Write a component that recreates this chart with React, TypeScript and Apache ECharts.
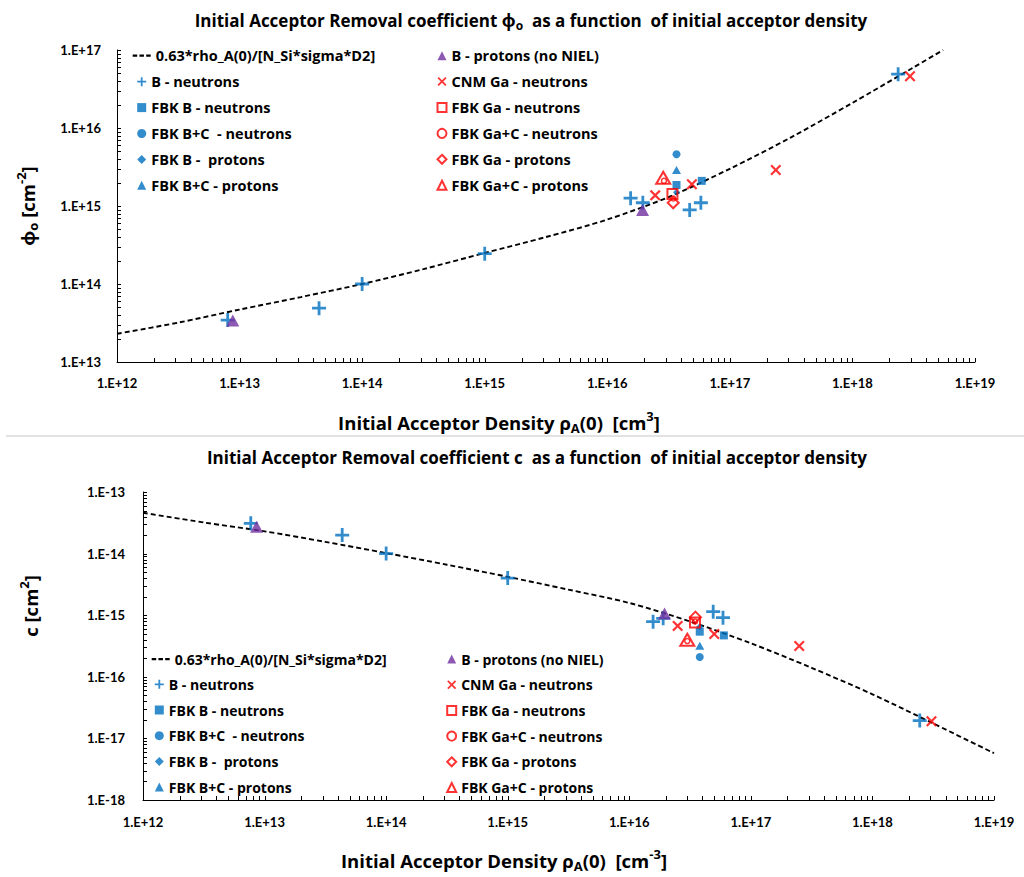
import React, { useEffect, useRef } from 'react';
import * as echarts from 'echarts';

const FONT = 'Lato, "Noto Sans", "DejaVu Sans", sans-serif';
const FONT2 = '"Open Sans", "Noto Sans", "DejaVu Sans", sans-serif';
const BLUE = '#0070C0';
const PURPLE = '#7030A0';
const RED = '#FF0000';

// ---------- names ----------
const LINE_NAME = '0.63*rho_A(0)/[N_Si*sigma*D2]';
const N_B_NEU = 'B - neutrons';
const N_FBK_B_NEU = 'FBK B - neutrons';
const N_FBK_BC_NEU = 'FBK B+C  - neutrons';
const N_FBK_B_PRO = 'FBK B -  protons';
const N_FBK_BC_PRO = 'FBK B+C - protons';
const N_B_PRO = 'B - protons (no NIEL)';
const N_CNM_GA = 'CNM Ga - neutrons';
const N_FBK_GA_NEU = 'FBK Ga - neutrons';
const N_FBK_GAC_NEU = 'FBK Ga+C - neutrons';
const N_FBK_GA_PRO = 'FBK Ga - protons';
const N_FBK_GAC_PRO = 'FBK Ga+C - protons';

const leftNames = [N_B_NEU, N_FBK_B_NEU, N_FBK_BC_NEU, N_FBK_B_PRO, N_FBK_BC_PRO];
const rightNames = [N_B_PRO, N_CNM_GA, N_FBK_GA_NEU, N_FBK_GAC_NEU, N_FBK_GA_PRO, N_FBK_GAC_PRO];

// ---------- model curves ----------
const phiCurveX = [1e12, 3.16e12, 1e13, 3.16e13, 1e14, 3.16e14, 1e15, 3.16e15, 1e16, 3.16e16, 1e17, 3.16e17, 1e18, 3.16e18, 5.5e18];
const phiCurveY = [2.3e13, 3.2e13, 4.7e13, 6.8e13, 1.0e14, 1.55e14, 2.5e14, 4.0e14, 6.7e14, 1.3e15, 3.0e15, 7.6e15, 2.1e16, 6.0e16, 1.0e17];
const cCurveX = [1e12, 3.16e12, 1e13, 3.16e13, 1e14, 3.16e14, 1e15, 3.16e15, 1e16, 3.16e16, 1e17, 3.16e17, 1e18, 3.16e18, 1e19];
const cCurveY = [4.6e-14, 3.2e-14, 2.3e-14, 1.55e-14, 1.02e-14, 6.6e-15, 4.2e-15, 2.6e-15, 1.58e-15, 7.9e-16, 3.5e-16, 1.4e-16, 5.2e-17, 1.75e-17, 5.75e-18];

// ---------- top chart: phi_o ----------
const phiBNeutrons = [[8.0e12, 3.45e13], [4.45e13, 4.9e13], [1.0e14, 1.0e14], [1.0e15, 2.45e14], [1.55e16, 1.26e15], [1.95e16, 1.1e15], [4.7e16, 8.9e14], [5.8e16, 1.1e15], [2.36e18, 4.9e16]];
const phiFbkBNeutrons = [[3.67e16, 1.86e15], [5.9e16, 2.1e15]];
const phiFbkBCNeutrons = [[3.67e16, 4.6e15]];
const phiFbkBProtons = [[3.67e16, 1.5e15]];
const phiFbkBCProtons = [[3.67e16, 2.9e15]];
const phiBProtons = [[8.8e12, 3.4e13], [1.94e16, 8.9e14]];
const phiCnmGa = [[2.46e16, 1.37e15], [4.9e16, 1.9e15], [2.37e17, 2.9e15], [2.95e18, 4.6e16]];
const phiFbkGaNeutrons = [[3.4e16, 1.43e15]];
const phiFbkGaCNeutrons = [[2.9e16, 2.1e15], [3.45e16, 1.25e15]];
const phiFbkGaProtons = [[3.45e16, 1.1e15]];
const phiFbkGaCProtons = [[2.86e16, 2.3e15]];

// ---------- bottom chart: c ----------
const cBNeutrons = [[7.7e12, 3.1e-14], [4.35e13, 2.0e-14], [1.0e14, 1.0e-14], [1.0e15, 4.0e-15], [1.57e16, 7.85e-16], [1.9e16, 8.9e-16], [4.9e16, 1.14e-15], [5.9e16, 9.1e-16], [2.45e18, 1.95e-17]];
const cFbkBNeutrons = [[3.8e16, 5.4e-16], [6.0e16, 4.7e-16]];
const cFbkBCNeutrons = [[3.8e16, 2.1e-16]];
const cFbkBProtons = [[3.8e16, 6.5e-16]];
const cFbkBCProtons = [[3.8e16, 3.2e-16]];
const cBProtons = [[8.6e12, 2.74e-14], [1.95e16, 1.07e-15]];
const cCnmGa = [[2.5e16, 6.7e-16], [5.0e16, 4.95e-16], [2.5e17, 3.16e-16], [3.06e18, 1.9e-17]];
const cFbkGaNeutrons = [[3.47e16, 7.6e-16]];
const cFbkGaCNeutrons = [[3.47e16, 7.9e-16], [3.0e16, 3.8e-16]];
const cFbkGaProtons = [[3.5e16, 9.3e-16]];
const cFbkGaCProtons = [[3.0e16, 4.0e-16]];

// ---------- log tick mantissas (axis decoration) ----------
const tickMantissas = [1, 2, 3, 4, 5, 6, 7, 8, 9];
const logTicks = (minExp: number, maxExp: number) => {
  const out: number[] = [];
  for (let e = minExp; e < maxExp; e++) {
    for (const m of tickMantissas) out.push(Number(m + 'e' + e));
  }
  out.push(Number('1e' + maxExp));
  return out;
};

// ---------- marker styles ----------
const PLUS = 'path://M4,0H6V4H10V6H6V10H4V6H0V4H4Z';
const CROSS = 'path://M1.4,0L5,3.6L8.6,0L10,1.4L6.4,5L10,8.6L8.6,10L5,6.4L1.4,10L0,8.6L3.6,5L0,1.4Z';
const DASH_ICON = 'path://M0,0H4V2H0Z M6,0H10V2H6Z M12,0H16V2H12Z';
const open = (w: number) => ({ color: 'rgba(255,255,255,0)', borderColor: RED, borderWidth: w });

const markerStyle: Record<string, any> = {
  [N_B_NEU]: { symbol: PLUS, symbolSize: 14, itemStyle: { color: BLUE } },
  [N_FBK_B_NEU]: { symbol: 'rect', symbolSize: 8, itemStyle: { color: BLUE } },
  [N_FBK_BC_NEU]: { symbol: 'circle', symbolSize: 8, itemStyle: { color: BLUE } },
  [N_FBK_B_PRO]: { symbol: 'diamond', symbolSize: 7, itemStyle: { color: BLUE } },
  [N_FBK_BC_PRO]: { symbol: 'triangle', symbolSize: [9, 8], itemStyle: { color: BLUE } },
  [N_B_PRO]: { symbol: 'triangle', symbolSize: [13, 12], itemStyle: { color: PURPLE } },
  [N_CNM_GA]: { symbol: CROSS, symbolSize: 11, itemStyle: { color: RED } },
  [N_FBK_GA_NEU]: { symbol: 'rect', symbolSize: 10, itemStyle: open(2) },
  [N_FBK_GAC_NEU]: { symbol: 'circle', symbolSize: 5, itemStyle: open(1.5) },
  [N_FBK_GA_PRO]: { symbol: 'diamond', symbolSize: 11, itemStyle: open(2) },
  [N_FBK_GAC_PRO]: { symbol: 'triangle', symbolSize: [14, 12], itemStyle: open(2) },
};

const scatter = (name: string, data: number[][], idx: number) => ({
  type: 'scatter',
  name,
  data,
  xAxisIndex: idx,
  yAxisIndex: idx,
  silent: true,
  z: 3,
  ...markerStyle[name],
});

const curve = (xs: number[], ys: number[], idx: number) => ({
  type: 'line',
  name: LINE_NAME,
  data: xs.map((x, i) => [x, ys[i]]),
  xAxisIndex: idx,
  yAxisIndex: idx,
  showSymbol: false,
  symbol: 'none',
  smooth: 0.3,
  silent: true,
  z: 2,
  lineStyle: { color: '#000', width: 1.9, type: [5, 3] },
  itemStyle: { color: '#000' },
});

const exp10 = (v: number) => Math.round(Math.log10(v));

const logAxis = (gridIndex: number, minExp: number, maxExp: number, fmt: (v: number) => string, margin: number, isY: boolean) => ({
  type: 'log',
  logBase: 10,
  gridIndex,
  min: Number('1e' + minExp),
  max: Number('1e' + maxExp),
  splitNumber: maxExp - minExp,
  axisLine: { show: true, onZero: false, lineStyle: { color: '#000', width: 1 } },
  axisTick: { show: false },
  minorTick: { show: false },
  splitLine: { show: false },
  minorSplitLine: { show: false },
  axisLabel: {
    show: true,
    margin,
    formatter: fmt,
    fontFamily: FONT,
    fontWeight: 'bold',
    fontSize: 13,
    color: '#000',
    showMinLabel: true,
    showMaxLabel: true,
  },
  position: isY ? 'left' : 'bottom',
});

const T = (size: number) => ({ fontSize: size, fontWeight: 'bold', fontFamily: FONT2, fill: '#000', color: '#000', lineHeight: size + 6 });
const SUB = (size: number) => ({ fontSize: size, fontWeight: 'bold', fontFamily: FONT2, fill: '#000', color: '#000', verticalAlign: 'bottom' });
const SUP = (size: number) => ({ fontSize: size, fontWeight: 'bold', fontFamily: FONT2, fill: '#000', color: '#000', verticalAlign: 'top' });

const richText = (x: number, y: number, text: string, size: number, rotation = 0) => ({
  type: 'text',
  x,
  y,
  rotation,
  silent: true,
  style: {
    text,
    align: 'center',
    verticalAlign: 'middle',
    fontSize: size,
    fontWeight: 'bold',
    fontFamily: FONT2,
    fill: '#000',
    rich: { t: T(size), s: SUB(Math.round(size * 0.68)), p: SUP(Math.round(size * 0.68)) },
  },
});

const legendBase = (size: number, gap: number) => ({
  orient: 'vertical',
  selectedMode: false,
  padding: 0,
  itemWidth: 9,
  itemHeight: 9,
  itemGap: gap,
  symbolKeepAspect: true,
  textStyle: { fontFamily: FONT2, fontWeight: 'bold', fontSize: size, color: '#000', lineHeight: 15 },
});

const lineLegendData = [{ name: LINE_NAME, icon: DASH_ICON, itemStyle: { color: '#000', borderWidth: 0 } }];
const LT = legendBase(14.5, 10.9);
const LB = legendBase(14, 10.7);

const baseGraphic: any[] = [
  { type: 'line', silent: true, shape: { x1: 6, y1: 436, x2: 1024, y2: 436 }, style: { stroke: '#d9d9d9', lineWidth: 1.5 } },
  richText(531, 20, '{t|Initial Acceptor Removal coefficient ϕ}{s|o}{t|  as a function  of initial acceptor density}', 17),
  richText(537, 457, '{t|Initial Acceptor Removal coefficient c  as a function  of initial acceptor density}', 17),
  richText(499, 422, '{t|Initial Acceptor Density ρ}{s|A}{t|(0)  [cm}{p|3}{t|]}', 18.5),
  richText(504, 860, '{t|Initial Acceptor Density ρ}{s|A}{t|(0)  [cm}{p|-3}{t|]}', 18.5),
  richText(27, 206, '{t|ϕ}{s|o}{t| [cm}{p|-2}{t|]}', 18.5, Math.PI / 2),
  richText(30, 606, '{t|c [cm}{p|2}{t|]}', 18.5, Math.PI / 2),
];

const option: any = {
  animation: false,
  backgroundColor: '#fff',
  grid: [
    { left: 117, right: 49, top: 50, bottom: 515, containLabel: false },
    { left: 143, right: 30, top: 492, bottom: 77, containLabel: false },
  ],
  xAxis: [
    logAxis(0, 12, 19, (v: number) => '1.E+' + exp10(v), 14, false),
    logAxis(1, 12, 19, (v: number) => '1.E+' + exp10(v), 15, false),
  ],
  yAxis: [
    logAxis(0, 13, 17, (v: number) => '1.E+' + exp10(v), 16, true),
    logAxis(1, -18, -13, (v: number) => '1.E' + exp10(v), 18, true),
  ],
  legend: [
    { ...LT, data: lineLegendData, left: 132.7, top: 48.2, itemWidth: 18 },
    { ...LT, data: leftNames, left: 137.2, top: 74.2 },
    { ...LT, data: rightNames, left: 436.5, top: 48.2 },
    { ...LB, data: lineLegendData, left: 151.7, top: 651.5, itemWidth: 18 },
    { ...LB, data: leftNames, left: 154.8, top: 676.8 },
    { ...LB, data: rightNames, left: 446.2, top: 651.5 },
  ],
  graphic: baseGraphic,
  series: [
    curve(phiCurveX, phiCurveY, 0),
    scatter(N_B_NEU, phiBNeutrons, 0),
    scatter(N_FBK_B_NEU, phiFbkBNeutrons, 0),
    scatter(N_FBK_BC_NEU, phiFbkBCNeutrons, 0),
    scatter(N_FBK_B_PRO, phiFbkBProtons, 0),
    scatter(N_FBK_BC_PRO, phiFbkBCProtons, 0),
    scatter(N_B_PRO, phiBProtons, 0),
    scatter(N_CNM_GA, phiCnmGa, 0),
    scatter(N_FBK_GA_NEU, phiFbkGaNeutrons, 0),
    scatter(N_FBK_GAC_NEU, phiFbkGaCNeutrons, 0),
    scatter(N_FBK_GA_PRO, phiFbkGaProtons, 0),
    scatter(N_FBK_GAC_PRO, phiFbkGaCProtons, 0),
    curve(cCurveX, cCurveY, 1),
    scatter(N_B_NEU, cBNeutrons, 1),
    scatter(N_FBK_B_NEU, cFbkBNeutrons, 1),
    scatter(N_FBK_BC_NEU, cFbkBCNeutrons, 1),
    scatter(N_FBK_B_PRO, cFbkBProtons, 1),
    scatter(N_FBK_BC_PRO, cFbkBCProtons, 1),
    scatter(N_B_PRO, cBProtons, 1),
    scatter(N_CNM_GA, cCnmGa, 1),
    scatter(N_FBK_GA_NEU, cFbkGaNeutrons, 1),
    scatter(N_FBK_GAC_NEU, cFbkGaCNeutrons, 1),
    scatter(N_FBK_GA_PRO, cFbkGaProtons, 1),
    scatter(N_FBK_GAC_PRO, cFbkGaCProtons, 1),
  ],
};

// inside log tick marks, positioned through the chart's own axis scales
const tickSpecs = [
  { grid: 0, isX: true, minExp: 12, maxExp: 19, other: 1e13 },
  { grid: 0, isX: false, minExp: 13, maxExp: 17, other: 1e12 },
  { grid: 1, isX: true, minExp: 12, maxExp: 19, other: 1e-18 },
  { grid: 1, isX: false, minExp: -18, maxExp: -13, other: 1e12 },
];

const addTicks = (chart: any) => {
  const els: any[] = [];
  for (const s of tickSpecs) {
    const base = s.isX
      ? chart.convertToPixel({ yAxisIndex: s.grid }, s.other)
      : chart.convertToPixel({ xAxisIndex: s.grid }, s.other);
    if (typeof base !== 'number' || !isFinite(base)) continue;
    for (const v of logTicks(s.minExp, s.maxExp)) {
      const p = s.isX
        ? chart.convertToPixel({ xAxisIndex: s.grid }, v)
        : chart.convertToPixel({ yAxisIndex: s.grid }, v);
      if (typeof p !== 'number' || !isFinite(p)) continue;
      const q = Math.round(p) + 0.5;
      const len = 4;
      els.push({
        type: 'line',
        silent: true,
        z: 100,
        shape: s.isX ? { x1: q, y1: base, x2: q, y2: base - len } : { x1: base, y1: q, x2: base + len, y2: q },
        style: { stroke: '#000', lineWidth: 1 },
      });
    }
  }
  chart.setOption({ graphic: [...baseGraphic, ...els] });
};

export default function App() {
  const ref = useRef<HTMLDivElement>(null);
  useEffect(() => {
    if (!ref.current) return;
    const chart = echarts.init(ref.current, undefined, { renderer: 'svg' });
    chart.setOption(option);
    try {
      addTicks(chart);
    } catch (e) {
      // ticks are decoration only
    }
    return () => chart.dispose();
  }, []);
  return (
    <div
      ref={ref}
      style={{ position: 'absolute', left: 0, top: 0, width: 1024, height: 877, background: '#fff' }}
    />
  );
}
